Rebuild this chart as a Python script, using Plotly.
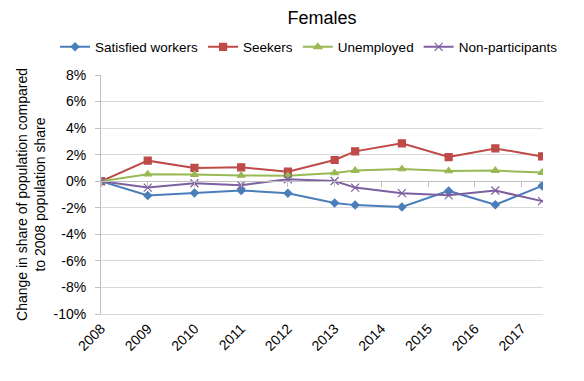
import plotly.graph_objects as go

# x positions (years; later observations fall part-way through the year)
x_vals = [2008, 2009, 2010, 2011, 2012, 2013, 2013.44, 2014.44, 2015.44, 2016.44, 2017.44]
satisfied = [0.0, -1.08, -0.88, -0.70, -0.90, -1.64, -1.80, -1.94, -0.73, -1.77, -0.35]
seekers = [0.0, 1.55, 1.00, 1.05, 0.72, 1.60, 2.25, 2.85, 1.82, 2.47, 1.87]
unemployed = [0.0, 0.53, 0.50, 0.43, 0.42, 0.62, 0.80, 0.92, 0.77, 0.80, 0.65]
nonpart = [0.0, -0.48, -0.15, -0.30, 0.15, 0.02, -0.48, -0.90, -1.06, -0.70, -1.50]

tick_years = list(range(2008, 2018))
tick_labels = [str(y) for y in tick_years]
y_ticks = list(range(-10, 9, 2))
y_labels = [f"{v}%" for v in y_ticks]

FONT = "Liberation Sans, Arial, sans-serif"
series = [
    ("Satisfied workers", satisfied, "#4A7EBB", "diamond", 6),
    ("Seekers", seekers, "#BE4B48", "square", 7),
    ("Unemployed", unemployed, "#98B954", "triangle-up", 7),
    ("Non-participants", nonpart, "#7D60A0", "x-thin-open", 8),
]

fig = go.Figure()
for name, ys, col, sym, size in series:
    fig.add_trace(go.Scatter(
        x=x_vals, y=[v / 100 for v in ys], name=name, mode="lines+markers",
        line=dict(color=col, width=2),
        marker=dict(symbol=sym, size=size, color=col, line=dict(color=col, width=1.2)),
    ))

y_min, y_max = -0.10, 0.08
zero_pos = (0 - y_min) / (y_max - y_min)

fig.update_layout(
    width=584, height=381,
    margin=dict(l=101, r=41, t=75, b=67, autoexpand=False),
    paper_bgcolor="white", plot_bgcolor="white",
    font=dict(family=FONT, size=14, color="black"),
    title=dict(text="Females", x=0.5, xanchor="center", xref="paper",
               y=1 - 18 / 381, yanchor="middle", yref="container",
               font=dict(size=18, family=FONT, color="black")),
    legend=dict(orientation="h", x=-0.104, xanchor="left", y=1.117, yanchor="middle",
                font=dict(size=13.5), itemwidth=30, tracegroupgap=0,
                bgcolor="rgba(0,0,0,0)"),
    showlegend=True,
    xaxis=dict(
        range=[2008, 2017.46], tickmode="array", tickvals=tick_years, ticktext=tick_labels,
        tickangle=-45, showgrid=False, zeroline=False, showline=True,
        linecolor="#D9D9D9", ticks="", tickfont=dict(size=14),
    ),
    xaxis2=dict(
        range=[2008, 2017.46], overlaying="x", anchor="free", position=zero_pos,
        tickmode="array", tickvals=tick_years, showticklabels=False,
        ticks="outside", ticklen=5, tickcolor="#BFBFBF", showline=True,
        linecolor="#BFBFBF", showgrid=False, zeroline=False, side="bottom",
    ),
    yaxis=dict(
        range=[y_min, y_max], tickmode="array", tickvals=[v / 100 for v in y_ticks],
        ticktext=y_labels, showgrid=True, gridcolor="#D9D9D9", zeroline=False,
        showline=True, linecolor="#BFBFBF", ticks="outside", ticklen=5,
        tickcolor="#BFBFBF", tickfont=dict(size=14), ticklabelstandoff=6,
        title=dict(text="Change in share of population compared<br>to 2008 population share",
                   font=dict(size=14), standoff=4),
    ),
)
# invisible trace to activate xaxis2
fig.add_trace(go.Scatter(x=[x_vals[0]], y=[0], xaxis="x2", mode="markers",
                         marker=dict(opacity=0), showlegend=False, hoverinfo="skip"))

fig.write_html("out.html", config={"displayModeBar": False},
               post_script="document.body.style.margin='0';")
